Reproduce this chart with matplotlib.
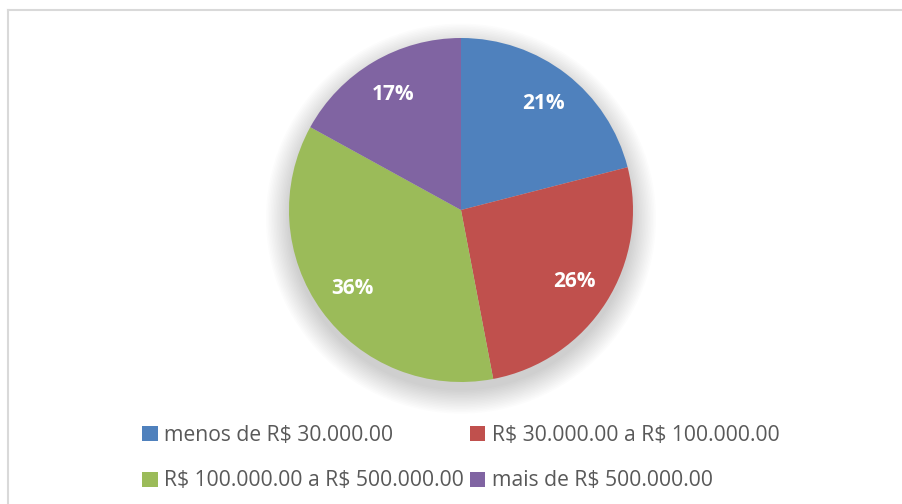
import matplotlib
matplotlib.use("Agg")
import matplotlib.pyplot as plt
from matplotlib.patches import Circle, Patch
from matplotlib.lines import Line2D

plt.rcParams["text.parse_math"] = False

categories = ["menos de R$ 30.000.00", "R$ 30.000.00 a R$ 100.000.00",
              "R$ 100.000.00 a R$ 500.000.00", "mais de R$ 500.000.00"]
values = [21, 26, 36, 17]
colors = ["#4F81BD", "#C0504D", "#9BBB59", "#8064A2"]

W, H = 902, 504
fig = plt.figure(figsize=(W / 100, H / 100), dpi=100)
fig.patch.set_facecolor("white")

# chart border (left and top visible)
fig.add_artist(Line2D([8 / W, 8 / W], [0, 1 - 10 / H], color="#D9D9D9", lw=1.5,
                      transform=fig.transFigure))
fig.add_artist(Line2D([8 / W, 1], [1 - 10 / H, 1 - 10 / H], color="#D9D9D9", lw=1.5,
                      transform=fig.transFigure))

cx, cy, r = 461, 210, 172
ax = fig.add_axes([(cx - r) / W, (H - cy - r) / H, 2 * r / W, 2 * r / H])

wedges, texts, autotexts = ax.pie(values, colors=colors, startangle=90, counterclock=False,
                                  radius=1.0, autopct="%d%%", pctdistance=0.78,
                                  wedgeprops=dict(linewidth=0), textprops=dict(
                                      color="white", fontsize=15, fontweight="bold",
                                      family="Open Sans"))
ax.set_xlim(-1, 1)
ax.set_ylim(-1, 1)
ax.set_aspect("equal")
ax.axis("off")

# soft shadow
n = 16
for i in range(n):
    rad = 0.99 + 0.009 * (i + 1)
    ax.add_patch(Circle((0, -0.05), rad, color="black", alpha=0.011, lw=0,
                        clip_on=False, zorder=0))

for w in wedges:
    w.set_zorder(2)
for t in autotexts:
    t.set_zorder(3)

handles = [Patch(facecolor=colors[i], edgecolor="none") for i in [0, 2, 1, 3]]
labels = [categories[i] for i in [0, 2, 1, 3]]
leg = fig.legend(handles, labels, ncol=2, loc="center", bbox_to_anchor=(461 / W, 1 - 458 / H),
                 frameon=False, prop=dict(family="Open Sans", size=15.2),
                 labelcolor="#595959", handlelength=0.72, handleheight=0.72,
                 handletextpad=0.3, columnspacing=0.3, labelspacing=1.18)

fig.savefig("out.png", dpi=100)
